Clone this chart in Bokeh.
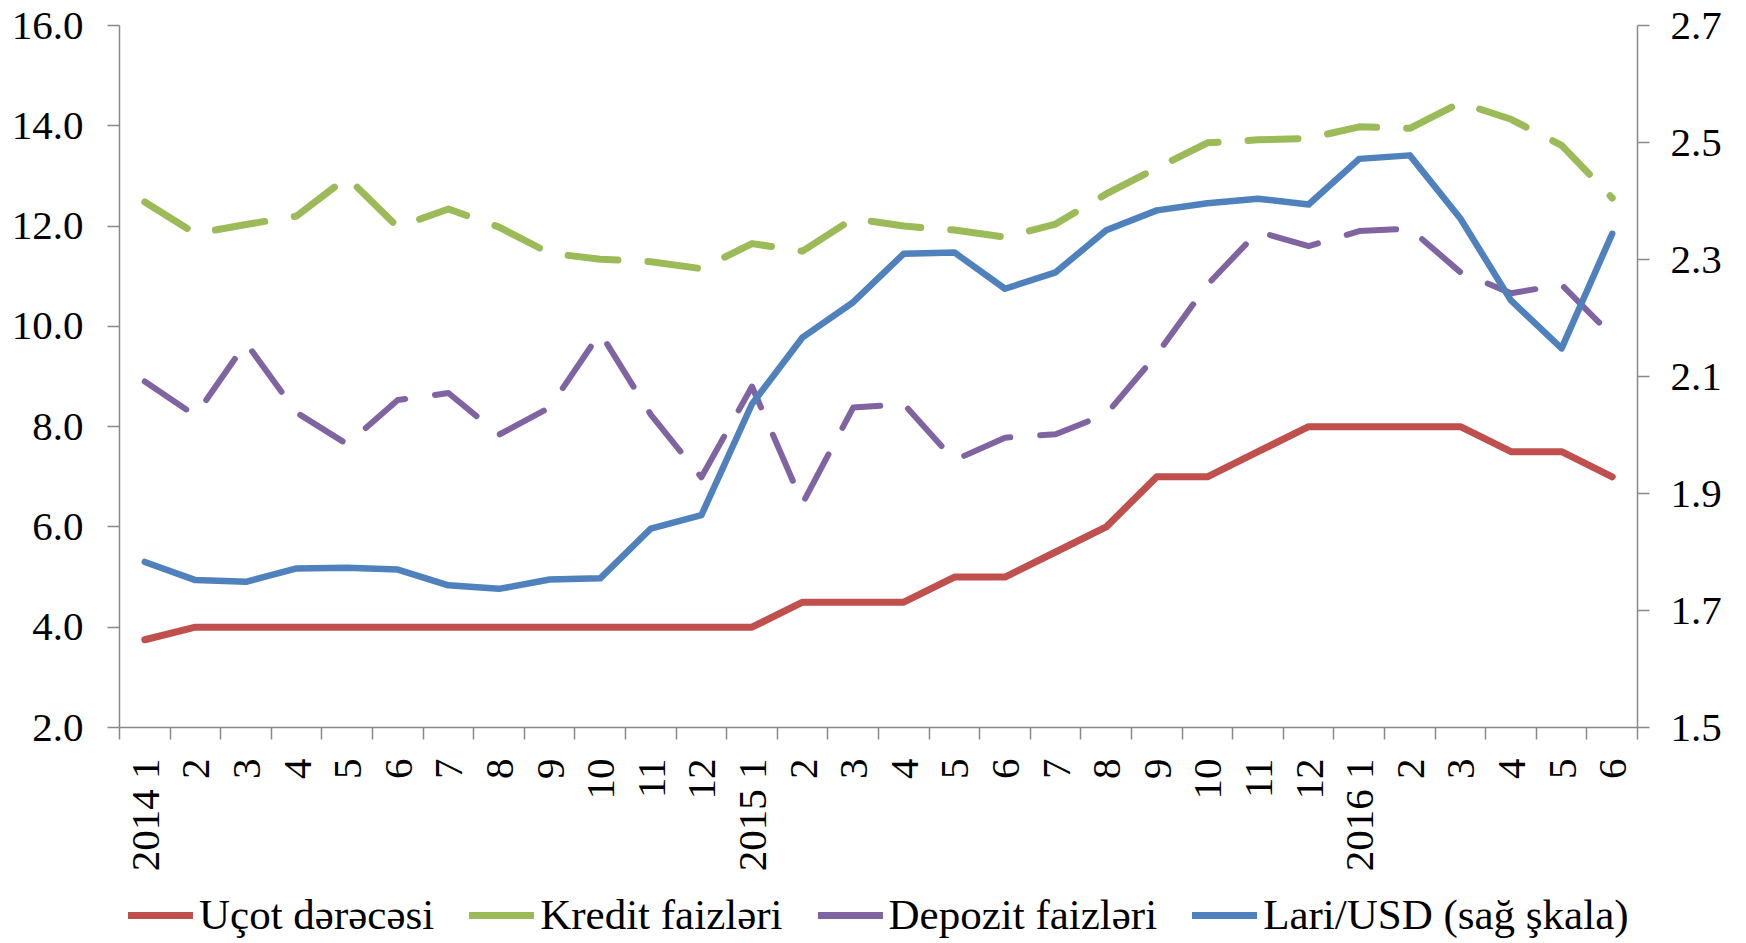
import math
from bokeh.plotting import figure
from bokeh.layouts import column
from bokeh.models import Range1d, LinearAxis, FixedTicker, NumeralTickFormatter, Legend, LegendItem
from bokeh.embed import file_html
from bokeh.resources import INLINE

# ---- data ----
years = ["2014"] * 12 + ["2015"] * 12 + ["2016"] * 6
months = list(range(1, 13)) + list(range(1, 13)) + list(range(1, 7))
cat_labels = [f"{y} {m}" if m == 1 else str(m) for y, m in zip(years, months)]

ucot = [3.75, 4.0, 4.0, 4.0, 4.0, 4.0, 4.0, 4.0, 4.0, 4.0, 4.0, 4.0,
        4.0, 4.5, 4.5, 4.5, 5.0, 5.0, 5.5, 6.0, 7.0, 7.0, 7.5, 8.0,
        8.0, 8.0, 8.0, 7.5, 7.5, 7.0]
kredit = [12.48, 11.85, 12.03, 12.2, 12.97, 11.98, 12.34, 11.98, 11.46, 11.34, 11.29, 11.15,
          11.65, 11.5, 12.15, 12.0, 11.92, 11.78, 12.04, 12.64, 13.16, 13.66, 13.72, 13.75,
          13.98, 13.95, 14.46, 14.13, 13.61, 12.56]
depozit = [8.9, 8.22, 9.67, 8.28, 7.65, 8.53, 8.67, 7.84, 8.38, 9.87, 8.24, 6.99,
           8.8, 6.47, 8.38, 8.45, 7.33, 7.78, 7.85, 8.25, 9.44, 10.83, 11.89, 11.6,
           11.9, 11.95, 11.08, 10.66, 10.83, 9.81]
lari = [1.783, 1.752, 1.749, 1.772, 1.773, 1.770, 1.743, 1.737, 1.753, 1.755, 1.840, 1.863,
        2.053, 2.167, 2.227, 2.310, 2.312, 2.250, 2.278, 2.350, 2.384, 2.396, 2.404, 2.394,
        2.472, 2.478, 2.370, 2.230, 2.148, 2.344]

left_ticks = [2, 4, 6, 8, 10, 12, 14, 16]
right_ticks = [1.5, 1.7, 1.9, 2.1, 2.3, 2.5, 2.7]
series_names = ["Uçot dərəcəsi", "Kredit faizləri", "Depozit faizləri", "Lari/USD (sağ şkala)"]
colors = ["#C0504D", "#9BBB59", "#8064A2", "#4F81BD"]

n = len(cat_labels)
xc = [i + 0.5 for i in range(n)]
bounds = list(range(n + 1))

FONT = "Liberation Serif"
AX = "#898989"
W = 1730

p = figure(width=W, height=878, output_backend="svg", toolbar_location=None,
           x_range=Range1d(0, n), y_range=Range1d(left_ticks[0], left_ticks[-1]),
           x_axis_type=None, y_axis_type=None,
           min_border_left=119, min_border_right=93, min_border_top=25, min_border_bottom=151)
p.outline_line_color = None
p.background_fill_color = "white"
p.border_fill_color = "white"
p.extra_y_ranges = {"r": Range1d(right_ticks[0], right_ticks[-1])}

def style_axis(ax):
    ax.axis_line_color = AX
    ax.axis_line_width = 1.5
    ax.major_tick_line_color = AX
    ax.major_tick_line_width = 1.5
    ax.major_tick_out = 12
    ax.major_tick_in = 0
    ax.minor_tick_line_color = None
    ax.major_label_text_font = FONT
    ax.major_label_text_font_size = "41px"
    ax.major_label_text_color = "black"

la = LinearAxis(ticker=FixedTicker(ticks=left_ticks), formatter=NumeralTickFormatter(format="0.0"))
style_axis(la)
la.major_label_standoff = 24
p.add_layout(la, "left")

ra = LinearAxis(y_range_name="r", ticker=FixedTicker(ticks=right_ticks),
                formatter=NumeralTickFormatter(format="0.0"))
style_axis(ra)
ra.major_label_standoff = 21
p.add_layout(ra, "right")

# category axis: labels at category centres, tick marks (minor) between categories
xb = LinearAxis(ticker=FixedTicker(ticks=xc, minor_ticks=bounds),
                major_label_overrides={v: lab for v, lab in zip(xc, cat_labels)})
style_axis(xb)
xb.major_tick_line_color = None
xb.major_tick_out = 0
xb.minor_tick_line_color = AX
xb.minor_tick_line_width = 1.5
xb.minor_tick_out = 12
xb.minor_tick_in = 0
xb.major_label_standoff = 19
xb.major_label_orientation = math.pi / 2
p.add_layout(xb, "below")

p.line(xc, ucot, line_color=colors[0], line_width=7, line_join="round", line_cap="round")
p.line(xc, kredit, line_color=colors[1], line_width=7, line_dash="50 30", line_join="round", line_cap="round")
p.line(xc, depozit, line_color=colors[2], line_width=6, line_dash="50 30", line_join="round", line_cap="round")
p.line(xc, lari, line_color=colors[3], line_width=6.5, line_join="round", line_cap="round", y_range_name="r")

# legend in a strip below the chart
lf = figure(width=W, height=62, output_backend="svg", toolbar_location=None,
            x_range=Range1d(0, 1), y_range=Range1d(0, 1),
            x_axis_type=None, y_axis_type=None, min_border=0)
lf.outline_line_color = None
lf.grid.visible = False
items = []
nan = float("nan")
for name, c in zip(series_names, colors):
    r = lf.line([nan], [nan], line_color=c, line_width=7, line_cap="round")
    items.append(LegendItem(label=name, renderers=[r]))

legend = Legend(items=items, orientation="horizontal", location=(9, 1),
                glyph_width=65, glyph_height=30, label_standoff=6, spacing=35,
                padding=0, margin=0, border_line_color=None, background_fill_alpha=0,
                label_text_font=FONT, label_text_font_size="43px", label_text_color="black")
lf.add_layout(legend)

open("out.html", "w").write(file_html(column(p, lf, spacing=0), INLINE))
